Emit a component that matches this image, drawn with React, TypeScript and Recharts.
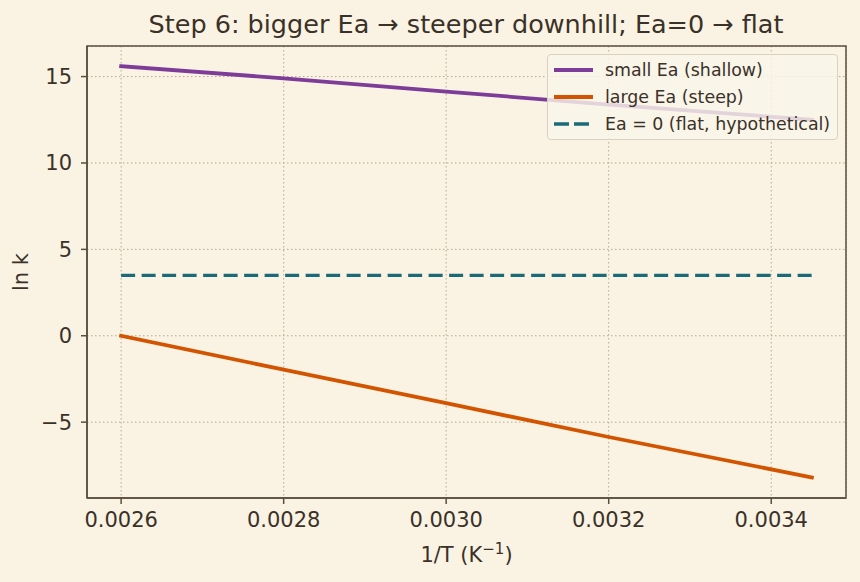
import React from 'react';
import { LineChart, Line, XAxis, YAxis, CartesianGrid, ReferenceArea } from 'recharts';

// 1/T values (K^-1) and ln k for three activation energies
const invT = [0.0026, 0.0028, 0.003, 0.0032, 0.00345];
const lnkSmallEa = [15.6, 14.9, 14.13, 13.38, 12.5];
const lnkLargeEa = [0.0, -1.96, -3.9, -5.86, -8.2];
const lnkZeroEa = [3.5, 3.5, 3.5, 3.5, 3.5];

const xTicks = [0.0026, 0.0028, 0.003, 0.0032, 0.0034];
const yTicks = [-5, 0, 5, 10, 15];
const xDomain: [number, number] = [0.002558, 0.003492];
const yDomain: [number, number] = [-9.39, 16.77];

const seriesNames = ['small Ea (shallow)', 'large Ea (steep)', 'Ea = 0 (flat, hypothetical)'];
const seriesColors = ['#7D3C98', '#D35400', '#1B6A78'];

const data = invT.map((x, i) => ({
  x,
  small: lnkSmallEa[i],
  large: lnkLargeEa[i],
  zero: lnkZeroEa[i],
}));

const W = 860;
const H = 582;
const BG = '#FAF3E3';
const INK = '#3a3128';
const SPINE = '#5a4e3f';
const FONT = '"DejaVu Sans", sans-serif';

const XLabel = (props: any) => {
  const vb = props.viewBox || {};
  const cx = vb.x + vb.width / 2;
  return (
    <text x={cx} y={562} textAnchor="middle" fontSize={21} fill={INK} fontFamily={FONT}>
      1/T (K
      <tspan dy={-8} fontSize={15}>−1</tspan>
      <tspan dy={8}>)</tspan>
    </text>
  );
};

const YLabel = (props: any) => {
  const vb = props.viewBox || {};
  const cy = vb.y + vb.height / 2;
  return (
    <text
      x={28}
      y={cy}
      textAnchor="middle"
      fontSize={21}
      fill={INK}
      fontFamily={FONT}
      transform={`rotate(-90, 28, ${cy})`}
    >
      ln k
    </text>
  );
};

const LegendBox = () => (
  <div
    style={{
      position: 'absolute',
      left: 547,
      top: 54,
      width: 291,
      height: 86,
      boxSizing: 'border-box',
      border: '1px solid #d9d1c2',
      borderRadius: 4,
      background: 'rgba(250,245,234,0.82)',
      fontFamily: FONT,
      fontSize: 17.4,
      color: INK,
      pointerEvents: 'none',
    }}
  >
    {seriesNames.map((name, i) => (
      <div
        key={name}
        style={{
          position: 'absolute',
          left: 0,
          top: 4 + i * 27,
          height: 22,
          display: 'flex',
          alignItems: 'center',
          whiteSpace: 'nowrap',
        }}
      >
        <svg width={57} height={22} style={{ display: 'block' }}>
          <line
            x1={6}
            x2={45}
            y1={11}
            y2={11}
            stroke={seriesColors[i]}
            strokeWidth={i === 2 ? 3.3 : 3.8}
            strokeDasharray={i === 2 ? '15 5' : undefined}
          />
        </svg>
        <span>{name}</span>
      </div>
    ))}
  </div>
);

export default function App() {
  return (
    <div style={{ position: 'absolute', left: 0, top: 0, width: W, height: H, background: BG, fontFamily: FONT }}>
      <LineChart
        width={W}
        height={H}
        data={data}
        margin={{ top: 46, right: 14, left: 0, bottom: 0 }}
        style={{ background: BG }}
      >
        <CartesianGrid stroke="#b3a894" strokeDasharray="1.5 2.5" strokeWidth={1} />
        <XAxis
          dataKey="x"
          type="number"
          domain={xDomain}
          ticks={xTicks}
          allowDataOverflow
          height={84}
          tickFormatter={(v: number) => v.toFixed(4)}
          tick={{ fontSize: 21, fill: INK, fontFamily: FONT }}
          tickSize={6}
          tickMargin={8}
          stroke={SPINE}
          axisLine={{ stroke: SPINE, strokeWidth: 1.5 }}
          tickLine={{ stroke: SPINE, strokeWidth: 1.5 }}
          label={<XLabel />}
        />
        <YAxis
          type="number"
          domain={yDomain}
          ticks={yTicks}
          allowDataOverflow
          width={87}
          tickFormatter={(v: number) => (v < 0 ? `−${Math.abs(v)}` : `${v}`)}
          tick={{ fontSize: 21, fill: INK, fontFamily: FONT }}
          tickSize={6}
          tickMargin={9}
          stroke={SPINE}
          axisLine={{ stroke: SPINE, strokeWidth: 1.5 }}
          tickLine={{ stroke: SPINE, strokeWidth: 1.5 }}
          label={<YLabel />}
        />
        <Line
          dataKey="small"
          type="linear"
          stroke={seriesColors[0]}
          strokeWidth={3.8}
          strokeLinecap="square"
          dot={false}
          activeDot={false}
          isAnimationActive={false}
        />
        <Line
          dataKey="large"
          type="linear"
          stroke={seriesColors[1]}
          strokeWidth={3.8}
          strokeLinecap="square"
          dot={false}
          activeDot={false}
          isAnimationActive={false}
        />
        <Line
          dataKey="zero"
          type="linear"
          stroke={seriesColors[2]}
          strokeWidth={3.3}
          strokeDasharray="14 6.5"
          dot={false}
          activeDot={false}
          isAnimationActive={false}
        />
        <ReferenceArea
          x1={xDomain[0]}
          x2={xDomain[1]}
          y1={yDomain[0]}
          y2={yDomain[1]}
          fill="none"
          fillOpacity={0}
          stroke={SPINE}
          strokeWidth={1.5}
          ifOverflow="visible"
        />
      </LineChart>
      <svg
        width={W}
        height={44}
        style={{ position: 'absolute', left: 0, top: 0, pointerEvents: 'none' }}
      >
        <text x={466} y={33} textAnchor="middle" fontSize={25.5} fill={INK} fontFamily={FONT}>
          Step 6: bigger Ea → steeper downhill; Ea=0 → flat
        </text>
      </svg>
      <LegendBox />
    </div>
  );
}
